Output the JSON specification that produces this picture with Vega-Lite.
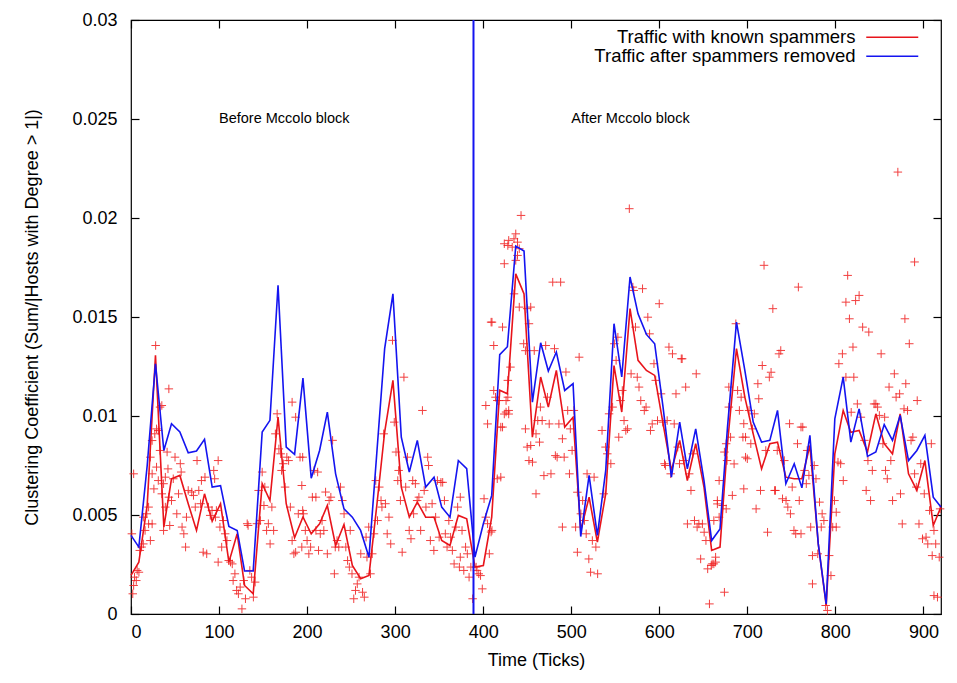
{
"$schema":"https://vega.github.io/schema/vega-lite/v6.json",
"width":810,"height":594,
"autosize":{"type":"none"},
"padding":{"left":131,"top":20,"right":16,"bottom":69},
"background":"white",
"config":{
 "font":"Liberation Sans",
 "view":{"stroke":"#000","strokeWidth":1.2},
 "axis":{"domain":false,"grid":false,"tickColor":"#000","tickWidth":1.2,"tickSize":-8,"labelFontSize":18,"labelColor":"#000","titleFontSize":18,"titleFontWeight":"normal","titleColor":"#000"}
},
"datasets":{
"pts":[
{"t":3,"v":0.00708},{"t":1,"v":0.00405},{"t":4,"v":0.00186},{"t":7,"v":0.0022},{"t":9,"v":0.00211},{"t":6,"v":0.00169},{"t":3,"v":0.00144},{"t":2,"v":0.00102},{"t":10,"v":0.00321},{"t":12,"v":0.00338},{"t":14,"v":0.00354},{"t":16,"v":0.00422},{"t":18,"v":0.00506},{"t":20,"v":0.00455},{"t":22,"v":0.00371},{"t":24,"v":0.00455},{"t":14,"v":0.00489},{"t":20,"v":0.0054},{"t":22,"v":0.00792},{"t":24,"v":0.00708},{"t":24,"v":0.00876},{"t":26,"v":0.00632},{"t":27,"v":0.0091},{"t":29,"v":0.00935},{"t":31,"v":0.00927},{"t":33,"v":0.01045},{"t":35,"v":0.01053},{"t":43,"v":0.01137},{"t":33,"v":0.00826},{"t":29,"v":0.00742},{"t":31,"v":0.00674},{"t":35,"v":0.00607},{"t":37,"v":0.00658},{"t":39,"v":0.00691},{"t":41,"v":0.00818},{"t":42,"v":0.00733},{"t":43,"v":0.0059},{"t":37,"v":0.00422},{"t":39,"v":0.0054},{"t":44,"v":0.00447},{"t":46,"v":0.00573},{"t":48,"v":0.00683},{"t":50,"v":0.00792},{"t":52,"v":0.00506},{"t":54,"v":0.00607},{"t":56,"v":0.00759},{"t":57,"v":0.00717},{"t":58,"v":0.00439},{"t":60,"v":0.00405},{"t":62,"v":0.00338},{"t":63,"v":0.00489},{"t":65,"v":0.00624},{"t":69,"v":0.00616},{"t":71,"v":0.00599},{"t":73,"v":0.0054},{"t":75,"v":0.00775},{"t":77,"v":0.00624},{"t":79,"v":0.00557},{"t":80,"v":0.00674},{"t":82,"v":0.00312},{"t":84,"v":0.00691},{"t":86,"v":0.00304},{"t":88,"v":0.0054},{"t":90,"v":0.00498},{"t":92,"v":0.00523},{"t":94,"v":0.00725},{"t":95,"v":0.00683},{"t":96,"v":0.00489},{"t":97,"v":0.00523},{"t":99,"v":0.00775},{"t":101,"v":0.00439},{"t":103,"v":0.00338},{"t":105,"v":0.00472},{"t":99,"v":0.00262},{"t":107,"v":0.00405},{"t":109,"v":0.00371},{"t":111,"v":0.0027},{"t":113,"v":0.00262},{"t":115,"v":0.00253},{"t":116,"v":0.00169},{"t":118,"v":0.00203},{"t":120,"v":0.00119},{"t":122,"v":0.00102},{"t":124,"v":0.00136},{"t":126,"v":0.00026},{"t":128,"v":0.00169},{"t":130,"v":0.00077},{"t":132,"v":0.00456},{"t":133,"v":0.00447},{"t":135,"v":0.0022},{"t":137,"v":0.00186},{"t":139,"v":0.00085},{"t":141,"v":0.00161},{"t":143,"v":0.00456},{"t":145,"v":0.00624},{"t":147,"v":0.00472},{"t":149,"v":0.00717},{"t":151,"v":0.00548},{"t":152,"v":0.00641},{"t":154,"v":0.00422},{"t":156,"v":0.00456},{"t":158,"v":0.00354},{"t":160,"v":0.0054},{"t":162,"v":0.00422},{"t":164,"v":0.0091},{"t":166,"v":0.01011},{"t":168,"v":0.00834},{"t":170,"v":0.00809},{"t":171,"v":0.00725},{"t":173,"v":0.00759},{"t":175,"v":0.00641},{"t":177,"v":0.00792},{"t":179,"v":0.00775},{"t":181,"v":0.0054},{"t":183,"v":0.00371},{"t":185,"v":0.00304},{"t":187,"v":0.00312},{"t":183,"v":0.0107},{"t":187,"v":0.00994},{"t":190,"v":0.00506},{"t":192,"v":0.00792},{"t":194,"v":0.00338},{"t":28,"v":0.01356},
{"t":195,"v":0.00792},{"t":194,"v":0.00649},{"t":195,"v":0.00523},{"t":196,"v":0.00506},{"t":198,"v":0.00422},{"t":200,"v":0.00371},{"t":202,"v":0.00304},{"t":204,"v":0.00338},{"t":206,"v":0.0059},{"t":210,"v":0.0059},{"t":208,"v":0.00725},{"t":212,"v":0.00717},{"t":210,"v":0.00422},{"t":213,"v":0.00321},{"t":215,"v":0.00405},{"t":217,"v":0.00472},{"t":219,"v":0.00422},{"t":221,"v":0.00616},{"t":223,"v":0.00304},{"t":225,"v":0.00573},{"t":227,"v":0.0059},{"t":229,"v":0.00877},{"t":231,"v":0.00203},{"t":232,"v":0.00338},{"t":234,"v":0.00371},{"t":236,"v":0.00338},{"t":238,"v":0.00641},{"t":240,"v":0.00573},{"t":242,"v":0.00506},{"t":244,"v":0.00338},{"t":246,"v":0.0027},{"t":248,"v":0.00237},{"t":249,"v":0.00422},{"t":251,"v":0.00203},{"t":253,"v":0.00077},{"t":255,"v":0.00119},{"t":257,"v":0.00152},{"t":259,"v":0.00186},{"t":261,"v":0.00304},{"t":263,"v":0.0011},{"t":265,"v":0.00085},{"t":267,"v":0.00388},{"t":268,"v":0.00287},{"t":270,"v":0.00439},{"t":272,"v":0.00203},{"t":274,"v":0.00304},{"t":276,"v":0.00405},{"t":278,"v":0.00674},{"t":280,"v":0.00472},{"t":282,"v":0.00641},{"t":284,"v":0.00573},{"t":285,"v":0.0054},{"t":287,"v":0.0091},{"t":289,"v":0.00557},{"t":291,"v":0.00405},{"t":293,"v":0.00489},{"t":295,"v":0.00354},{"t":297,"v":0.01382},{"t":299,"v":0.00969},{"t":301,"v":0.00818},{"t":303,"v":0.00674},{"t":304,"v":0.00725},{"t":306,"v":0.00573},{"t":308,"v":0.00312},{"t":310,"v":0.01196},{"t":312,"v":0.00641},{"t":314,"v":0.00792},{"t":316,"v":0.00422},{"t":318,"v":0.0038},{"t":320,"v":0.00674},{"t":321,"v":0.00506},{"t":323,"v":0.00658},{"t":325,"v":0.00573},{"t":327,"v":0.0059},{"t":329,"v":0.00422},{"t":331,"v":0.01028},{"t":333,"v":0.00624},{"t":335,"v":0.0054},{"t":337,"v":0.00792},{"t":338,"v":0.0075},{"t":340,"v":0.00371},{"t":342,"v":0.00557},{"t":344,"v":0.00321},{"t":346,"v":0.00489},{"t":348,"v":0.00674},{"t":350,"v":0.00388},{"t":352,"v":0.00665},{"t":354,"v":0.00665},{"t":356,"v":0.00573},{"t":357,"v":0.00405},{"t":359,"v":0.00338},{"t":361,"v":0.00472},{"t":363,"v":0.00388},{"t":365,"v":0.00321},{"t":367,"v":0.00253},{"t":369,"v":0.00439},{"t":371,"v":0.0054},{"t":373,"v":0.00237},{"t":374,"v":0.00287},{"t":376,"v":0.00422},{"t":378,"v":0.0022},{"t":380,"v":0.00338},{"t":382,"v":0.00304},{"t":384,"v":0.00186},{"t":386,"v":0.00237},{"t":388,"v":0.00077},{"t":374,"v":0.0059},
{"t":392,"v":0.00237},{"t":393,"v":0.0022},{"t":395,"v":0.00203},{"t":397,"v":0.00194},{"t":399,"v":0.00127},{"t":401,"v":0.00582},{"t":403,"v":0.00489},{"t":405,"v":0.00456},{"t":407,"v":0.00304},{"t":409,"v":0.00414},{"t":410,"v":0.00422},{"t":403,"v":0.01053},{"t":405,"v":0.0096},{"t":409,"v":0.01474},{"t":410,"v":0.01474},{"t":412,"v":0.01356},{"t":414,"v":0.01095},{"t":416,"v":0.00683},{"t":418,"v":0.01078},{"t":420,"v":0.00944},{"t":422,"v":0.01449},{"t":424,"v":0.01769},{"t":426,"v":0.0102},{"t":428,"v":0.01095},{"t":429,"v":0.0101},{"t":412,"v":0.01129},{"t":416,"v":0.01078},
{"t":424,"v":0.0187},{"t":428,"v":0.01861},{"t":429,"v":0.01887},{"t":433,"v":0.01853},{"t":435,"v":0.01895},{"t":437,"v":0.0192},{"t":439,"v":0.01878},{"t":441,"v":0.01845},{"t":443,"v":0.02013},{"t":437,"v":0.01786},{"t":439,"v":0.01811},{"t":435,"v":0.01617},{"t":441,"v":0.0155},{"t":431,"v":0.01247},{"t":428,"v":0.0118},{"t":429,"v":0.01028},{"t":426,"v":0.01078},{"t":422,"v":0.00944},{"t":424,"v":0.0101},{"t":420,"v":0.00691},{"t":446,"v":0.01365},{"t":448,"v":0.0133},{"t":450,"v":0.01542},{"t":452,"v":0.01466},{"t":454,"v":0.0155},{"t":448,"v":0.00935},{"t":450,"v":0.00843},{"t":452,"v":0.00775},{"t":454,"v":0.00851},{"t":456,"v":0.00767},{"t":458,"v":0.0133},{"t":460,"v":0.0091},{"t":460,"v":0.00607},{"t":462,"v":0.00977},{"t":464,"v":0.00868},{"t":465,"v":0.01045},{"t":467,"v":0.00977},{"t":469,"v":0.00699},{"t":471,"v":0.01356},{"t":473,"v":0.01095},{"t":475,"v":0.0096},{"t":477,"v":0.00708},{"t":479,"v":0.01676},{"t":481,"v":0.0134},{"t":482,"v":0.008},{"t":484,"v":0.00792},{"t":486,"v":0.0096},{"t":488,"v":0.01676},{"t":490,"v":0.00885},{"t":492,"v":0.00792},{"t":494,"v":0.01222},{"t":496,"v":0.01028},{"t":498,"v":0.00708},{"t":499,"v":0.00935},{"t":501,"v":0.00826},{"t":503,"v":0.01028},{"t":505,"v":0.00439},{"t":507,"v":0.00615},{"t":509,"v":0.01297},{"t":511,"v":0.00506},{"t":513,"v":0.00573},{"t":515,"v":0.00472},{"t":517,"v":0.00405},{"t":518,"v":0.00708},{"t":520,"v":0.00278},{"t":522,"v":0.00211},{"t":524,"v":0.00371},{"t":526,"v":0.00691},{"t":528,"v":0.00338},{"t":530,"v":0.00203},{"t":507,"v":0.00312},{"t":490,"v":0.00439},{"t":535,"v":0.00927},{"t":537,"v":0.00607},{"t":539,"v":0.00843},{"t":541,"v":0.00809},{"t":543,"v":0.01011},{"t":545,"v":0.00759},{"t":547,"v":0.01045},{"t":549,"v":0.01365},{"t":551,"v":0.01281},{"t":553,"v":0.01398},{"t":554,"v":0.00893},{"t":556,"v":0.01078},{"t":558,"v":0.01129},{"t":560,"v":0.00977},{"t":562,"v":0.00927},{"t":564,"v":0.00935},{"t":566,"v":0.02047},{"t":568,"v":0.01213},{"t":570,"v":0.01651},{"t":571,"v":0.01634},{"t":573,"v":0.01449},{"t":575,"v":0.01196},{"t":577,"v":0.01146},{"t":579,"v":0.01078},{"t":581,"v":0.01643},{"t":583,"v":0.01028},{"t":585,"v":0.01045},{"t":587,"v":0.01499},{"t":589,"v":0.01415},{"t":590,"v":0.00927},{"t":592,"v":0.0096},{"t":594,"v":0.01264},{"t":596,"v":0.0118},{"t":598,"v":0.00977},{"t":600,"v":0.01567},{"t":602,"v":0.01112},{"t":604,"v":0.00969},{"t":606,"v":0.00759},{"t":607,"v":0.0075},{"t":609,"v":0.00977},{"t":611,"v":0.01348},{"t":613,"v":0.00708},{"t":615,"v":0.01314},{"t":617,"v":0.0096},{"t":619,"v":0.01112},{"t":621,"v":0.00843},{"t":623,"v":0.00759},{"t":625,"v":0.01289},{"t":626,"v":0.01289},{"t":628,"v":0.00775},{"t":630,"v":0.01146},{"t":632,"v":0.00455},{"t":634,"v":0.00708},{"t":636,"v":0.00624},{"t":638,"v":0.00809},{"t":640,"v":0.00472},{"t":642,"v":0.01213},{"t":643,"v":0.00439},{"t":645,"v":0.00455},{"t":647,"v":0.00278},{"t":649,"v":0.00455},{"t":651,"v":0.00413},{"t":653,"v":0.00371},{"t":655,"v":0.00228},{"t":657,"v":0.00051},{"t":659,"v":0.00245},{"t":662,"v":0.00253},{"t":664,"v":0.00287},{"t":666,"v":0.00573},{"t":668,"v":0.00674},
{"t":660,"v":0.00253},{"t":664,"v":0.00262},{"t":662,"v":0.00472},{"t":666,"v":0.00556},{"t":668,"v":0.00489},{"t":674,"v":0.0011},{"t":676,"v":0.00531},{"t":672,"v":0.00548},{"t":674,"v":0.00818},{"t":676,"v":0.0086},{"t":677,"v":0.00775},{"t":679,"v":0.01045},{"t":679,"v":0.01146},{"t":681,"v":0.00893},{"t":683,"v":0.00599},{"t":685,"v":0.00758},{"t":687,"v":0.01466},{"t":689,"v":0.01129},{"t":691,"v":0.01028},{"t":693,"v":0.01095},{"t":695,"v":0.00893},{"t":696,"v":0.00632},{"t":698,"v":0.00792},
{"t":696,"v":0.00961},{"t":698,"v":0.00893},{"t":700,"v":0.00784},{"t":702,"v":0.01028},{"t":704,"v":0.0086},{"t":706,"v":0.00935},{"t":708,"v":0.01011},{"t":710,"v":0.00531},{"t":712,"v":0.01163},{"t":713,"v":0.01087},{"t":715,"v":0.00624},{"t":717,"v":0.01255},{"t":719,"v":0.01761},{"t":721,"v":0.00826},{"t":723,"v":0.00413},{"t":725,"v":0.01196},{"t":727,"v":0.01221},{"t":729,"v":0.01542},{"t":731,"v":0.00624},{"t":732,"v":0.00624},{"t":734,"v":0.00826},{"t":736,"v":0.01314},{"t":738,"v":0.01331},{"t":740,"v":0.00582},{"t":742,"v":0.00775},{"t":744,"v":0.00573},{"t":746,"v":0.0054},{"t":748,"v":0.00961},{"t":749,"v":0.00506},{"t":751,"v":0.00641},{"t":753,"v":0.00422},{"t":755,"v":0.00405},{"t":757,"v":0.0086},{"t":758,"v":0.01651},{"t":759,"v":0.00573},{"t":761,"v":0.00944},{"t":763,"v":0.00944},{"t":761,"v":0.00405},{"t":765,"v":0.00725},{"t":767,"v":0.00658},{"t":768,"v":0.00826},{"t":770,"v":0.007},{"t":772,"v":0.00439},{"t":774,"v":0.00295},{"t":774,"v":0.00152},{"t":776,"v":0.0075},{"t":778,"v":0.00683},{"t":780,"v":0.00304},{"t":782,"v":0.00565},{"t":784,"v":0.00439},{"t":785,"v":0.00506},{"t":787,"v":0.00472},{"t":789,"v":0.00043},{"t":791,"v":0.00018},{"t":793,"v":0.00295},{"t":795,"v":0.00194},{"t":797,"v":0.00439},{"t":799,"v":0.00573},{"t":801,"v":0.00514},{"t":801,"v":0.00439},{"t":803,"v":0.00767},{"t":804,"v":0.01264},{"t":806,"v":0.00759},{"t":808,"v":0.01314},{"t":809,"v":0.00674},{"t":812,"v":0.01196},{"t":814,"v":0.0171},{"t":812,"v":0.01575},{"t":816,"v":0.01491},{"t":818,"v":0.01019},{"t":820,"v":0.01348},{"t":821,"v":0.01196},{"t":823,"v":0.01583},{"t":825,"v":0.01061},{"t":827,"v":0.01609},{"t":829,"v":0.00994},{"t":831,"v":0.01449},{"t":833,"v":0.00877},{"t":835,"v":0.00624},{"t":837,"v":0.00775},{"t":838,"v":0.01424},{"t":840,"v":0.00573},{"t":842,"v":0.00725},{"t":844,"v":0.01061},{"t":846,"v":0.01061},{"t":848,"v":0.01045},{"t":850,"v":0.01003},{"t":852,"v":0.01314},{"t":854,"v":0.0086},{"t":856,"v":0.00994},{"t":857,"v":0.00725},{"t":859,"v":0.00683},{"t":861,"v":0.01146},{"t":863,"v":0.00775},{"t":865,"v":0.00573},{"t":867,"v":0.01213},{"t":869,"v":0.01095},{"t":871,"v":0.02232},{"t":873,"v":0.01112},{"t":874,"v":0.00607},{"t":876,"v":0.00455},{"t":878,"v":0.01036},{"t":879,"v":0.01491},{"t":880,"v":0.01163},{"t":882,"v":0.01028},{"t":884,"v":0.01365},{"t":886,"v":0.00877},{"t":888,"v":0.00893},{"t":890,"v":0.00708},{"t":890,"v":0.01778},{"t":892,"v":0.00641},{"t":893,"v":0.01078},{"t":895,"v":0.00455},{"t":897,"v":0.00759},{"t":899,"v":0.0038},{"t":901,"v":0.00607},{"t":903,"v":0.00388},{"t":905,"v":0.00354},{"t":907,"v":0.00523},{"t":909,"v":0.0086},{"t":910,"v":0.00295},{"t":912,"v":0.00093},{"t":912,"v":0.00422},{"t":914,"v":0.00354},{"t":916,"v":0.00085},{"t":918,"v":0.00287},{"t":919,"v":0.00531}
],
"lines":[
{"t":0,"v":0.00195,"s":"with"},{"t":8.9,"v":0.00262,"s":"with"},{"t":18.4,"v":0.0055,"s":"with"},{"t":27.8,"v":0.01306,"s":"with"},{"t":37.3,"v":0.00439,"s":"with"},{"t":46,"v":0.00683,"s":"with"},{"t":55.5,"v":0.007,"s":"with"},{"t":65,"v":0.00557,"s":"with"},{"t":74.4,"v":0.00422,"s":"with"},{"t":83.5,"v":0.00607,"s":"with"},{"t":92.2,"v":0.00469,"s":"with"},{"t":101.7,"v":0.00557,"s":"with"},{"t":111.2,"v":0.00262,"s":"with"},{"t":120.6,"v":0.00405,"s":"with"},{"t":129,"v":0.00144,"s":"with"},{"t":138.8,"v":0.00102,"s":"with"},{"t":149,"v":0.00658,"s":"with"},{"t":157.8,"v":0.00573,"s":"with"},{"t":167,"v":0.00995,"s":"with"},{"t":176.3,"v":0.00557,"s":"with"},{"t":185.8,"v":0.00385,"s":"with"},{"t":195.3,"v":0.0049,"s":"with"},{"t":204.7,"v":0.00405,"s":"with"},{"t":214.2,"v":0.00456,"s":"with"},{"t":223,"v":0.00548,"s":"with"},{"t":232.4,"v":0.00346,"s":"with"},{"t":241.9,"v":0.00452,"s":"with"},{"t":251.4,"v":0.00245,"s":"with"},{"t":260.8,"v":0.00178,"s":"with"},{"t":270.3,"v":0.00195,"s":"with"},{"t":279.4,"v":0.00557,"s":"with"},{"t":288.1,"v":0.00919,"s":"with"},{"t":297.5,"v":0.0118,"s":"with"},{"t":307,"v":0.00641,"s":"with"},{"t":316.1,"v":0.00489,"s":"with"},{"t":325.2,"v":0.00565,"s":"with"},{"t":334.7,"v":0.00489,"s":"with"},{"t":344.2,"v":0.00489,"s":"with"},{"t":352.9,"v":0.00371,"s":"with"},{"t":362.3,"v":0.00346,"s":"with"},{"t":371.8,"v":0.00498,"s":"with"},{"t":381.3,"v":0.00481,"s":"with"},{"t":390.7,"v":0.00237,"s":"with"},{"t":400.2,"v":0.00245,"s":"with"},{"t":409.7,"v":0.00489,"s":"with"},{"t":418.8,"v":0.0113,"s":"with"},{"t":427.5,"v":0.01112,"s":"with"},{"t":437,"v":0.01718,"s":"with"},{"t":446.4,"v":0.01617,"s":"with"},{"t":455.9,"v":0.00893,"s":"with"},{"t":465.3,"v":0.01197,"s":"with"},{"t":474,"v":0.01045,"s":"with"},{"t":483.1,"v":0.0123,"s":"with"},{"t":492.6,"v":0.00944,"s":"with"},{"t":502.1,"v":0.00994,"s":"with"},{"t":510.8,"v":0.00422,"s":"with"},{"t":520.3,"v":0.0059,"s":"with"},{"t":529.7,"v":0.00363,"s":"with"},{"t":539.2,"v":0.00607,"s":"with"},{"t":548.6,"v":0.01255,"s":"with"},{"t":557.4,"v":0.0102,"s":"with"},{"t":566.8,"v":0.01542,"s":"with"},{"t":575.9,"v":0.01281,"s":"with"},{"t":585.4,"v":0.0123,"s":"with"},{"t":594.8,"v":0.01205,"s":"with"},{"t":604.3,"v":0.00961,"s":"with"},{"t":613.8,"v":0.00725,"s":"with"},{"t":623.2,"v":0.00877,"s":"with"},{"t":631.9,"v":0.00674,"s":"with"},{"t":641.4,"v":0.0086,"s":"with"},{"t":650.8,"v":0.00641,"s":"with"},{"t":659.5,"v":0.00321,"s":"with"},{"t":669,"v":0.00338,"s":"with"},{"t":677.5,"v":0.0086,"s":"with"},{"t":687.7,"v":0.0134,"s":"with"},{"t":697.2,"v":0.01095,"s":"with"},{"t":706.7,"v":0.0091,"s":"with"},{"t":716.2,"v":0.00733,"s":"with"},{"t":725.6,"v":0.0086,"s":"with"},{"t":734.3,"v":0.00868,"s":"with"},{"t":743.8,"v":0.00691,"s":"with"},{"t":753.3,"v":0.00683,"s":"with"},{"t":762,"v":0.00683,"s":"with"},{"t":771.1,"v":0.00851,"s":"with"},{"t":780.6,"v":0.00354,"s":"with"},{"t":789.6,"v":0.00043,"s":"with"},{"t":799.4,"v":0.00809,"s":"with"},{"t":808.9,"v":0.01028,"s":"with"},{"t":817.6,"v":0.00918,"s":"with"},{"t":827,"v":0.00927,"s":"with"},{"t":836.5,"v":0.00818,"s":"with"},{"t":846,"v":0.01011,"s":"with"},{"t":855.5,"v":0.0086,"s":"with"},{"t":864.9,"v":0.00809,"s":"with"},{"t":873.6,"v":0.01011,"s":"with"},{"t":883.1,"v":0.00708,"s":"with"},{"t":892.6,"v":0.00624,"s":"with"},{"t":901.7,"v":0.00775,"s":"with"},{"t":911.2,"v":0.00447,"s":"with"},{"t":919.9,"v":0.0054,"s":"with"},
{"t":0,"v":0.00397,"s":"after"},{"t":8.9,"v":0.00338,"s":"after"},{"t":18.4,"v":0.0075,"s":"after"},{"t":27.8,"v":0.01264,"s":"after"},{"t":37.3,"v":0.00826,"s":"after"},{"t":46,"v":0.00961,"s":"after"},{"t":55.5,"v":0.00919,"s":"after"},{"t":65,"v":0.00814,"s":"after"},{"t":74.4,"v":0.00823,"s":"after"},{"t":83.5,"v":0.00882,"s":"after"},{"t":92.2,"v":0.00641,"s":"after"},{"t":101.7,"v":0.00648,"s":"after"},{"t":111.2,"v":0.00442,"s":"after"},{"t":120.6,"v":0.00422,"s":"after"},{"t":129,"v":0.00217,"s":"after"},{"t":138.8,"v":0.00217,"s":"after"},{"t":149,"v":0.00919,"s":"after"},{"t":157.8,"v":0.00978,"s":"after"},{"t":167,"v":0.0166,"s":"after"},{"t":176.3,"v":0.00843,"s":"after"},{"t":185.8,"v":0.00806,"s":"after"},{"t":195.3,"v":0.01191,"s":"after"},{"t":204.7,"v":0.00686,"s":"after"},{"t":214.2,"v":0.00826,"s":"after"},{"t":223,"v":0.0102,"s":"after"},{"t":232.4,"v":0.00708,"s":"after"},{"t":241.9,"v":0.00531,"s":"after"},{"t":251.4,"v":0.00489,"s":"after"},{"t":260.8,"v":0.00422,"s":"after"},{"t":270.3,"v":0.00287,"s":"after"},{"t":279.4,"v":0.00826,"s":"after"},{"t":288.1,"v":0.0134,"s":"after"},{"t":297.5,"v":0.01617,"s":"after"},{"t":307,"v":0.00893,"s":"after"},{"t":316.1,"v":0.00717,"s":"after"},{"t":325.2,"v":0.00877,"s":"after"},{"t":334.7,"v":0.00641,"s":"after"},{"t":344.2,"v":0.00691,"s":"after"},{"t":352.9,"v":0.0054,"s":"after"},{"t":362.3,"v":0.00489,"s":"after"},{"t":371.8,"v":0.00775,"s":"after"},{"t":381.3,"v":0.00734,"s":"after"},{"t":390.7,"v":0.00287,"s":"after"},{"t":400.2,"v":0.00456,"s":"after"},{"t":409.7,"v":0.00599,"s":"after"},{"t":418.8,"v":0.0131,"s":"after"},{"t":427.5,"v":0.0135,"s":"after"},{"t":437,"v":0.01858,"s":"after"},{"t":446.4,"v":0.01833,"s":"after"},{"t":455.9,"v":0.0107,"s":"after"},{"t":465.3,"v":0.0137,"s":"after"},{"t":474,"v":0.01227,"s":"after"},{"t":483.1,"v":0.01323,"s":"after"},{"t":492.6,"v":0.01129,"s":"after"},{"t":502.1,"v":0.01163,"s":"after"},{"t":510.8,"v":0.00391,"s":"after"},{"t":520.3,"v":0.007,"s":"after"},{"t":529.7,"v":0.00397,"s":"after"},{"t":539.2,"v":0.00725,"s":"after"},{"t":548.6,"v":0.01466,"s":"after"},{"t":557.4,"v":0.01197,"s":"after"},{"t":566.8,"v":0.01702,"s":"after"},{"t":575.9,"v":0.01516,"s":"after"},{"t":585.4,"v":0.01412,"s":"after"},{"t":594.8,"v":0.01365,"s":"after"},{"t":604.3,"v":0.01045,"s":"after"},{"t":613.8,"v":0.00691,"s":"after"},{"t":623.2,"v":0.00969,"s":"after"},{"t":631.9,"v":0.00733,"s":"after"},{"t":641.4,"v":0.00935,"s":"after"},{"t":650.8,"v":0.00674,"s":"after"},{"t":659.5,"v":0.00371,"s":"after"},{"t":669,"v":0.0043,"s":"after"},{"t":677.5,"v":0.00944,"s":"after"},{"t":687.7,"v":0.01474,"s":"after"},{"t":697.2,"v":0.0123,"s":"after"},{"t":706.7,"v":0.00969,"s":"after"},{"t":716.2,"v":0.00868,"s":"after"},{"t":725.6,"v":0.00877,"s":"after"},{"t":734.3,"v":0.01028,"s":"after"},{"t":743.8,"v":0.00658,"s":"after"},{"t":753.3,"v":0.00759,"s":"after"},{"t":762,"v":0.00637,"s":"after"},{"t":771.1,"v":0.00902,"s":"after"},{"t":780.6,"v":0.00354,"s":"after"},{"t":789.6,"v":0.00051,"s":"after"},{"t":799.4,"v":0.00986,"s":"after"},{"t":808.9,"v":0.01196,"s":"after"},{"t":817.6,"v":0.00868,"s":"after"},{"t":827,"v":0.01036,"s":"after"},{"t":836.5,"v":0.00796,"s":"after"},{"t":846,"v":0.00818,"s":"after"},{"t":855.5,"v":0.00957,"s":"after"},{"t":864.9,"v":0.00877,"s":"after"},{"t":873.6,"v":0.01003,"s":"after"},{"t":883.1,"v":0.00775,"s":"after"},{"t":892.6,"v":0.00826,"s":"after"},{"t":901.7,"v":0.00902,"s":"after"},{"t":911.2,"v":0.0059,"s":"after"},{"t":919.9,"v":0.0054,"s":"after"}
],
"vline":[{"t":389,"v0":0,"v1":0.03}],
"notes":[{"t":100,"v":0.025,"label":"Before Mccolo block"},{"t":500,"v":0.025,"label":"After Mccolo block"}]
},
"layer":[
{"data":{"name":"pts"},
 "mark":{"type":"point","shape":"M-1,0H1M0,-1V1","filled":false,"size":72,"strokeWidth":1,"color":"#f01e1e","opacity":0.85},
 "encoding":{
  "x":{"field":"t","type":"quantitative","scale":{"domain":[0,920],"nice":false,"zero":false},"axis":{"orient":"bottom","values":[0,100,200,300,400,500,600,700,800,900],"title":"Time (Ticks)","labelPadding":17,"titlePadding":10}},
  "y":{"field":"v","type":"quantitative","scale":{"domain":[0,0.03],"nice":false},"axis":{"orient":"left","values":[0,0.005,0.01,0.015,0.02,0.025,0.03],"format":"~g","title":"Clustering Coefficient (Sum/|Hosts with Degree > 1|)","labelPadding":22,"titlePadding":30}}}},
{"data":{"name":"lines"},
 "mark":{"type":"line","strokeWidth":1.6},
 "encoding":{
  "x":{"field":"t","type":"quantitative","scale":{"domain":[0,920],"nice":false,"zero":false},"axis":null},
  "y":{"field":"v","type":"quantitative","scale":{"domain":[0,0.03],"nice":false},"axis":null},
  "color":{"field":"s","type":"nominal","scale":{"domain":["with","after"],"range":["#e8141b","#1414f0"]},
   "legend":{"orient":"none","legendX":752,"legendY":8,"title":null,"symbolType":"M-3.25,0H3.25","symbolSize":256,"symbolStrokeWidth":1.6,"labelFontSize":18.5,"labelColor":"#000","labelLimit":500,"labelAlign":"right","labelOffset":-46,"rowPadding":0,"padding":0,
    "labelExpr":"datum.label == 'with' ? 'Traffic with known spammers' : 'Traffic after spammers removed'"}}}},
{"data":{"name":"vline"},
 "mark":{"type":"rule","color":"#1414f0","strokeWidth":2},
 "encoding":{
  "x":{"field":"t","type":"quantitative","scale":{"domain":[0,920],"nice":false,"zero":false},"axis":{"orient":"top","values":[0,100,200,300,400,500,600,700,800,900],"labels":false,"title":null}},
  "y":{"field":"v0","type":"quantitative","scale":{"domain":[0,0.03],"nice":false},"axis":{"orient":"right","values":[0,0.005,0.01,0.015,0.02,0.025,0.03],"labels":false,"title":null}},
  "y2":{"field":"v1"}}},
{"data":{"name":"notes"},
 "mark":{"type":"text","align":"left","baseline":"middle","fontSize":14.5,"color":"#000"},
 "encoding":{
  "x":{"field":"t","type":"quantitative","scale":{"domain":[0,920],"nice":false,"zero":false},"axis":null},
  "y":{"field":"v","type":"quantitative","scale":{"domain":[0,0.03],"nice":false},"axis":null},
  "text":{"field":"label"}}}
],
"resolve":{"axis":{"x":"independent","y":"independent"}}
}
